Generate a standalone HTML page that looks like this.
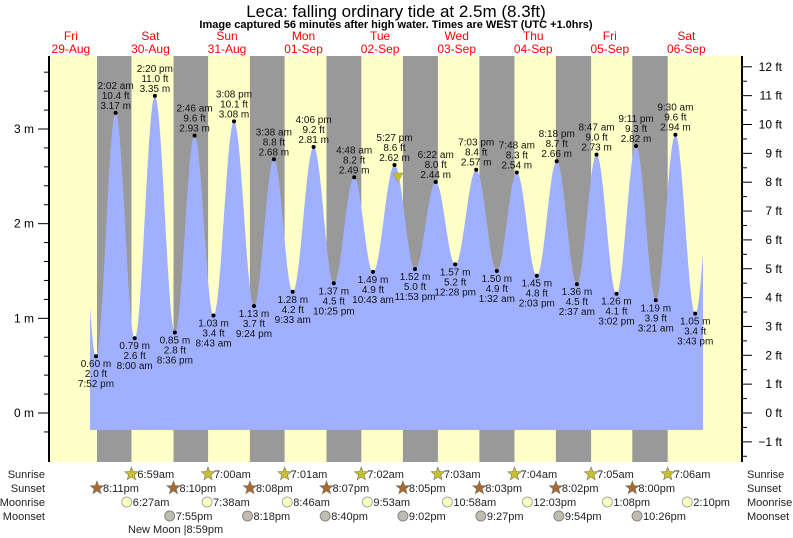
<!DOCTYPE html>
<html><head><meta charset="utf-8"><style>
body{margin:0;background:#fff;}
svg{display:block;font-family:"Liberation Sans",sans-serif;}
</style></head><body>
<svg id="s" width="793" height="538" xmlns="http://www.w3.org/2000/svg"></svg>
<script>
const S=document.getElementById('s');
let h='';
const X0=32.6,PX=3.19;
const X=t=>X0+t*PX;
const Y=m=>413-m*94.67;
h+='<rect x="49" y="56" width="693" height="406" fill="#ffffc8"/>';
const sunset=[20+11/60,44+10/60,68+8/60,92+7/60,116+5/60,140+3/60,164+2/60,188];
const sunrise=[30+59/60,55,79+1/60,103+2/60,127+3/60,151+4/60,175+5/60,199+6/60];
for(let i=0;i<8;i++){h+=`<rect x="${X(sunset[i]).toFixed(1)}" y="56" width="${((sunrise[i]-sunset[i])*PX).toFixed(1)}" height="406" fill="#999"/>`;}
const E=[[13.7,3.1],[19.87,.60],[26.03,3.17],[32,.79],[38.33,3.35],[44.6,.85],[50.77,2.93],[56.72,1.03],[63.13,3.08],[69.4,1.13],[75.63,2.68],[81.55,1.28],[88.1,2.81],[94.42,1.37],[100.8,2.49],[106.72,1.49],[113.45,2.62],[119.88,1.52],[126.37,2.44],[132.47,1.57],[139.05,2.57],[145.53,1.50],[151.8,2.54],[158.05,1.45],[164.3,2.66],[170.62,1.36],[176.78,2.73],[183.03,1.26],[189.18,2.82],[195.35,1.19],[201.5,2.94],[207.72,1.05],[213.9,2.95]];
function ht(t){for(let i=0;i<E.length-1;i++){const[a,ha]=E[i],[b,hb]=E[i+1];if(t>=a&&t<=b){const f=(1-Math.cos(Math.PI*(t-a)/(b-a)))/2;return ha+(hb-ha)*f;}}return 1;}
const t0=(90-X0)/PX,t1=(703-X0)/PX;
let p=`M90,430`;
for(let t=t0;t<=t1;t+=0.1)p+=`L${X(t).toFixed(1)},${Y(ht(t)).toFixed(1)}`;
p+=`L703,${Y(ht(t1)).toFixed(1)}L703,430Z`;
h+=`<path d="${p}" fill="#a0b0ff"/>`;
const lab=[["7:52 pm","2.0 ft"],["2:02 am","10.4 ft"],["8:00 am","2.6 ft"],["2:20 pm","11.0 ft"],["8:36 pm","2.8 ft"],["2:46 am","9.6 ft"],["8:43 am","3.4 ft"],["3:08 pm","10.1 ft"],["9:24 pm","3.7 ft"],["3:38 am","8.8 ft"],["9:33 am","4.2 ft"],["4:06 pm","9.2 ft"],["10:25 pm","4.5 ft"],["4:48 am","8.2 ft"],["10:43 am","4.9 ft"],["5:27 pm","8.6 ft"],["11:53 pm","5.0 ft"],["6:22 am","8.0 ft"],["12:28 pm","5.2 ft"],["7:03 pm","8.4 ft"],["1:32 am","4.9 ft"],["7:48 am","8.3 ft"],["2:03 pm","4.8 ft"],["8:18 pm","8.7 ft"],["2:37 am","4.5 ft"],["8:47 am","9.0 ft"],["3:02 pm","4.1 ft"],["9:11 pm","9.3 ft"],["3:21 am","3.9 ft"],["9:30 am","9.6 ft"],["3:43 pm","3.4 ft"]];
for(let i=1;i<E.length-1;i++){const[t,m]=E[i];const x=X(t),y=Y(m);const L=lab[i-1];const hi=(i%2==0);
h+=`<circle cx="${x.toFixed(1)}" cy="${y.toFixed(1)}" r="2" fill="#000"/>`;
const ms=m.toFixed(2)+' m';
const ts=`font-size="10" fill="#111" text-anchor="middle"`;
if(hi){h+=`<text x="${x}" y="${y-4}" ${ts}>${ms}</text><text x="${x}" y="${y-14}" ${ts}>${L[1]}</text><text x="${x}" y="${y-24}" ${ts}>${L[0]}</text>`;}
else{h+=`<text x="${x}" y="${y+11}" ${ts}>${ms}</text><text x="${x}" y="${y+21}" ${ts}>${L[1]}</text><text x="${x}" y="${y+31}" ${ts}>${L[0]}</text>`;}}
h+='<path d="M393,173L403,173L398,182Z" fill="#c8c020" stroke="#888" stroke-width="0.5"/>';
h+='<line x1="49" y1="56" x2="49" y2="462" stroke="#000" stroke-width="2"/><line x1="742" y1="56" x2="742" y2="462" stroke="#000" stroke-width="2"/>';
for(let m=-0.2;m<=3.61;m+=0.2){const y=Y(m);const maj=Math.abs(m-Math.round(m))<0.01;h+=`<line x1="${maj?38:44}" y1="${y}" x2="49" y2="${y}" stroke="#000"/>`;if(maj)h+=`<text x="34" y="${y+4}" font-size="12" text-anchor="end">${Math.round(m)} m</text>`;}
for(let f=-1.5;f<=12.01;f+=0.5){const y=413-f*28.85;const maj=Math.abs(f-Math.round(f))<0.01;h+=`<line x1="742" y1="${y}" x2="${maj?752:747}" y2="${y}" stroke="#000"/>`;if(maj)h+=`<text x="782" y="${y+4}" font-size="12" text-anchor="end">${Math.round(f)<0?'\u22121':Math.round(f)} ft</text>`;}
h+='<text x="396" y="17" font-size="17" text-anchor="middle">Leca: falling  ordinary tide at 2.5m (8.3ft)</text>';
h+='<text x="396" y="28" font-size="11" font-weight="bold" text-anchor="middle">Image captured 56 minutes after high water. Times are WEST (UTC +1.0hrs)</text>';
const dn=["Fri","Sat","Sun","Mon","Tue","Wed","Thu","Fri","Sat"],dd=["29-Aug","30-Aug","31-Aug","01-Sep","02-Sep","03-Sep","04-Sep","05-Sep","06-Sep"];
for(let i=0;i<9;i++){const x=X(12+24*i)+(i>0?3:0);h+=`<text x="${x}" y="40" font-size="12" fill="#f00" text-anchor="middle">${dn[i]}</text><text x="${x}" y="53" font-size="12" fill="#f00" text-anchor="middle">${dd[i]}</text>`;}
const rows=["Sunrise","Sunset","Moonrise","Moonset"],ry=[478,492,506,520];
for(let i=0;i<4;i++){h+=`<text x="45" y="${ry[i]}" font-size="11" text-anchor="end" fill="#222">${rows[i]}</text><text x="747" y="${ry[i]}" font-size="11" fill="#222">${rows[i]}</text>`;}
function star(x,y,c){let s='';for(let k=0;k<10;k++){const r=k%2?3:7,a=-Math.PI/2+k*Math.PI/5;s+=(k?'L':'M')+(x+r*Math.cos(a)).toFixed(1)+','+(y+r*Math.sin(a)).toFixed(1);}return `<path d="${s}Z" fill="${c}" stroke="#776" stroke-width="0.6"/>`;}
const srT=["6:59am","7:00am","7:01am","7:02am","7:03am","7:04am","7:05am","7:06am"];
for(let i=0;i<8;i++){const x=X(sunrise[i]);h+=star(x,474,"#c8c030")+`<text x="${x+6}" y="478" font-size="11" fill="#222">${srT[i]}</text>`;}
const ssT=["8:11pm","8:10pm","8:08pm","8:07pm","8:05pm","8:03pm","8:02pm","8:00pm"];
for(let i=0;i<8;i++){const x=X(sunset[i]);h+=star(x,488,"#a86830")+`<text x="${x+6}" y="492" font-size="11" fill="#222">${ssT[i]}</text>`;}
const mr=[[30.45,"6:27am"],[55.63,"7:38am"],[80.77,"8:46am"],[105.88,"9:53am"],[130.97,"10:58am"],[156.05,"12:03pm"],[181.13,"1:08pm"],[206.17,"2:10pm"]];
for(const[t,s]of mr){const x=X(t)-3;h+=`<circle cx="${x}" cy="502" r="5" fill="#ffffc0" stroke="#aaa"/><text x="${x+6}" y="506" font-size="11" fill="#222">${s}</text>`;}
const mst=[[43.92,"7:55pm"],[68.3,"8:18pm"],[92.67,"8:40pm"],[117.03,"9:02pm"],[141.45,"9:27pm"],[165.9,"9:54pm"],[190.43,"10:26pm"]];
for(const[t,s]of mst){const x=X(t)-3;h+=`<circle cx="${x}" cy="516" r="5" fill="#c0bcb0" stroke="#888"/><text x="${x+6}" y="520" font-size="11" fill="#222">${s}</text>`;}
h+='<text x="128" y="533" font-size="11" fill="#222">New Moon |8:59pm</text>';
S.innerHTML=h;
</script>
</body></html>
